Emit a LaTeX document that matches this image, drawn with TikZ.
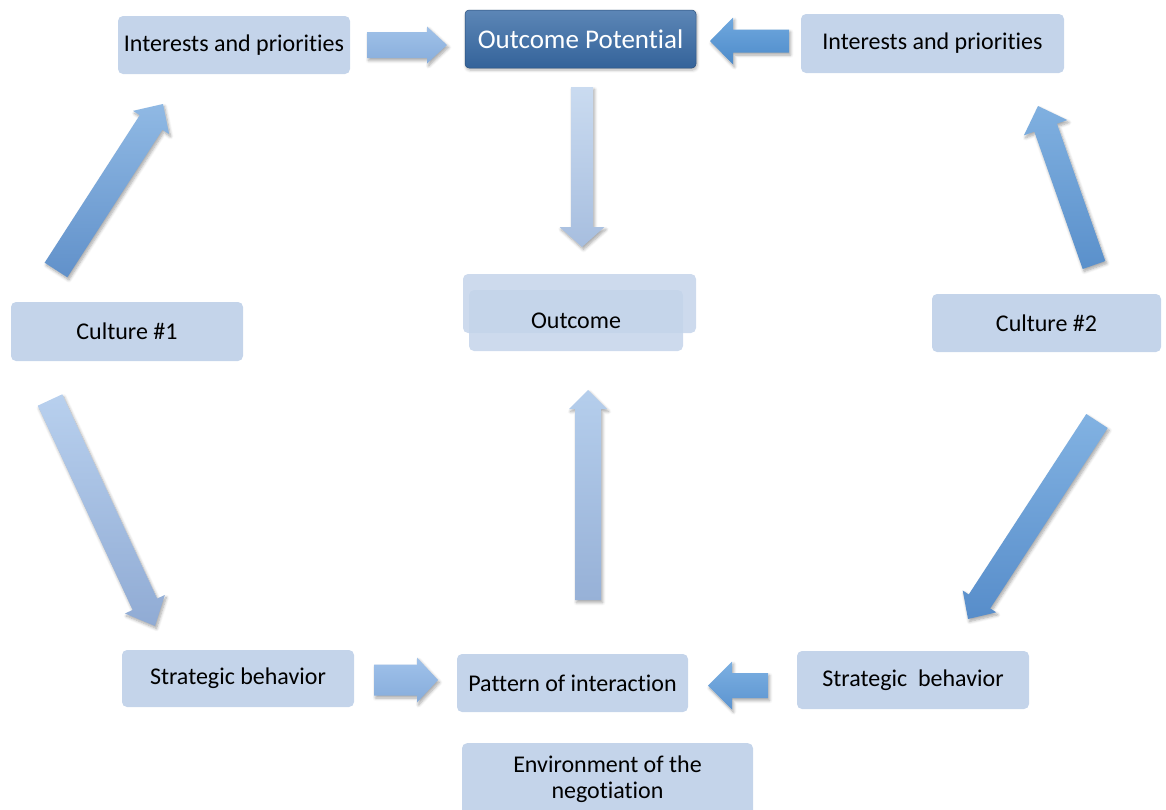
\documentclass[tikz,border=0pt]{standalone}
\usepackage{fontspec}
\setmainfont{Carlito}[Ligatures=NoCommon]
\usetikzlibrary{calc,shadows.blur}
\definecolor{boxc}{HTML}{C4D4EA}
\definecolor{potTop}{HTML}{5C86B6}
\definecolor{potBot}{HTML}{34639A}
\definecolor{c1t}{HTML}{A0C1E8}\definecolor{c1b}{HTML}{88AEDC}
\definecolor{c2t}{HTML}{70A8DE}\definecolor{c2b}{HTML}{4D8BCA}
\definecolor{c3t}{HTML}{CADBF0}\definecolor{c3b}{HTML}{A7BEDF}
\definecolor{c4t}{HTML}{B5CEEC}\definecolor{c4b}{HTML}{97B1D7}
\definecolor{c5t}{HTML}{90B9E4}\definecolor{c5b}{HTML}{6191CA}
\definecolor{c6t}{HTML}{B8D0EE}\definecolor{c6b}{HTML}{90ABD4}
\definecolor{c7t}{HTML}{80B0E0}\definecolor{c7b}{HTML}{5A90CB}
\definecolor{c8t}{HTML}{82B2E2}\definecolor{c8b}{HTML}{578DCA}
\definecolor{c9t}{HTML}{A0C2EA}\definecolor{c9b}{HTML}{86ACDB}
\definecolor{c10t}{HTML}{7CB0E2}\definecolor{c10b}{HTML}{5C94D0}
\tikzset{
  box/.style={fill=boxc, rounded corners=5pt, inner sep=0pt, font=\fontsize{24}{28}\selectfont, text=black},
  arrshadow/.style={blur shadow={shadow blur steps=6, shadow xshift=1.5pt, shadow yshift=-2.5pt, shadow opacity=35, shadow blur radius=3pt}},
}
\newcommand{\blockarr}[7]{%
  \path ($(#2)!#5!(#1)$) coordinate (hb);
  \path[top color=#6, bottom color=#7, arrshadow]
    ($(#1)!#3!90:(#2)$) -- ($(hb)!#3!-90:(#1)$) -- ($(hb)!#4!-90:(#1)$) -- (#2)
    -- ($(hb)!#4!90:(#1)$) -- ($(hb)!#3!90:(#1)$) -- ($(#1)!#3!-90:(#2)$) -- cycle;
}
\begin{document}
\begin{tikzpicture}[x=1pt,y=-1pt]
\useasboundingbox (0,0) rectangle (1166,809);

% boxes
\node[box, minimum width=232pt, minimum height=58pt] (intL) at (234,45) {Interests and priorities};
\node[rounded corners=4pt, top color=potTop, bottom color=potBot, draw=potBot!80!black, line width=0.5pt,
      minimum width=231pt, minimum height=58pt, inner sep=0pt, text=white,
      font=\fontsize{27}{30}\selectfont,
      blur shadow={shadow blur steps=6, shadow xshift=1pt, shadow yshift=-2pt, shadow opacity=30, shadow blur radius=3pt}] (pot) at (580.5,39) {Outcome Potential};
\node[box, minimum width=263pt, minimum height=59pt] (intR) at (932.5,43.5) {Interests and priorities};
\node[box, minimum width=232pt, minimum height=59pt] (cul1) at (127,331.5) {Culture \#1};
\node[box, minimum width=229pt, minimum height=58pt] (cul2) at (1046.5,323) {Culture \#2};
\node[box, fill opacity=0.85, minimum width=233pt, minimum height=59pt] (outA) at (579.5,303.5) {};
\node[box, fill opacity=0.85, text opacity=1, minimum width=214pt, minimum height=61pt] (out) at (576,320.5) {Outcome};
\node[box, minimum width=232pt, minimum height=57pt] (sbL) at (238,678.5) {Strategic behavior};
\node[box, minimum width=231pt, minimum height=58pt] (pat) at (572.5,683) {Pattern of interaction};
\node[box, minimum width=232pt, minimum height=58pt] (sbR) at (913,680) {Strategic\ \ behavior};
\node[box, minimum width=291pt, minimum height=90pt, anchor=north] (env) at (607.5,743) {};
\node[font=\fontsize{24}{26}\selectfont, align=center, inner sep=0pt] (envt) at (607.5,779) {Environment of the\\negotiation};

% arrow end points
\coordinate (a1s) at (367,45);   \coordinate (a1t) at (447,45);
\coordinate (a2s) at (789,41);   \coordinate (a2t) at (710,41);
\coordinate (a3s) at (582,87);   \coordinate (a3t) at (582,247);
\coordinate (a4s) at (588,600);  \coordinate (a4t) at (588,390);
\coordinate (a5s) at (56,270);   \coordinate (a5t) at (163,104);
\coordinate (a6s) at (50,400);   \coordinate (a6t) at (155,626);
\coordinate (a7s) at (1094,265); \coordinate (a7t) at (1038,106);
\coordinate (a8s) at (1097,421); \coordinate (a8t) at (968,619);
\coordinate (a9s) at (374,680);  \coordinate (a9t) at (438,680);
\coordinate (a10s) at (768,685.5); \coordinate (a10t) at (708,685.5);

% block arrows
\blockarr{a1s}{a1t}{13pt}{18.5pt}{20pt}{c1t}{c1b}
\blockarr{a2s}{a2t}{11.5pt}{23.5pt}{23pt}{c2t}{c2b}
\blockarr{a3s}{a3t}{11pt}{22.5pt}{20pt}{c3t}{c3b}
\blockarr{a4s}{a4t}{13pt}{19pt}{19pt}{c4t}{c4b}
\blockarr{a5s}{a5t}{13.5pt}{21.5pt}{22pt}{c5t}{c5b}
\blockarr{a6s}{a6t}{13.5pt}{22pt}{24pt}{c6t}{c6b}
\blockarr{a7s}{a7t}{12pt}{23pt}{23pt}{c7t}{c7b}
\blockarr{a8s}{a8t}{12.8pt}{20pt}{21pt}{c8t}{c8b}
\blockarr{a9s}{a9t}{15.5pt}{22.5pt}{21pt}{c9t}{c9b}
\blockarr{a10s}{a10t}{12.5pt}{24pt}{24pt}{c10t}{c10b}
\end{tikzpicture}
\end{document}
